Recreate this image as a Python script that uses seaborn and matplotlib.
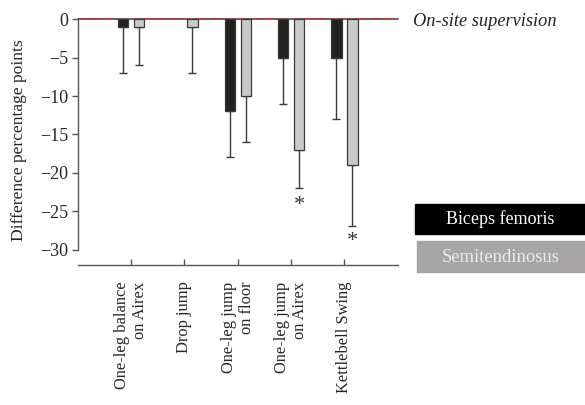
import numpy as np
import pandas as pd
import matplotlib
matplotlib.use('Agg')
import matplotlib.pyplot as plt
import seaborn as sns
from matplotlib.patches import Rectangle

# === DATA ===
exercises = ['One-leg balance\non Airex', 'Drop jump', 'One-leg jump\non floor',
             'One-leg jump\non Airex', 'Kettlebell Swing']
biceps = [-1, np.nan, -12, -5, -5]
biceps_err_end = [-7, np.nan, -18, -11, -13]
semiten = [-1, -1, -10, -17, -19]
semiten_err_end = [-6, -7, -16, -22, -27]
star_y = [np.nan, np.nan, np.nan, -24.2, -28.9]   # asterisks under semitendinosus

muscles = ['Biceps femoris', 'Semitendinosus']
bar_colors = ['#231f20', '#c9c9c9']

df = pd.DataFrame({
    'Exercise': exercises * 2,
    'Muscle': [muscles[0]] * 5 + [muscles[1]] * 5,
    'Diff': biceps + semiten,
    'ErrEnd': biceps_err_end + semiten_err_end,
})

# === STYLE ===
sns.set_style('white')
plt.rcParams['font.family'] = ['Liberation Serif', 'DejaVu Serif']
plt.rcParams['font.size'] = 12

fig = plt.figure(figsize=(5.85, 4.05), dpi=100)
ax = fig.add_axes([0.133, 0.346, 0.547, 0.614])

# zero line (dark line with red dashes), drawn below the bars
ax.axhline(0, color='#444444', lw=1.2, zorder=1, clip_on=False)
ax.axhline(0, color='#d43a3a', lw=1.2, dashes=(5, 3), zorder=1.1, clip_on=False)

sns.barplot(data=df, x='Exercise', y='Diff', hue='Muscle', order=exercises,
            hue_order=muscles, palette=bar_colors, width=0.6, gap=0.37,
            errorbar=None, edgecolor='#3a3a3a', linewidth=0.9, legend=False,
            ax=ax, zorder=2)

# one-sided error bars (downwards only)
offsets = [-0.15, 0.15]
for k, m in enumerate(muscles):
    sub = df[df['Muscle'] == m].set_index('Exercise').loc[exercises]
    xs = np.arange(len(exercises)) + offsets[k]
    lower = (sub['Diff'] - sub['ErrEnd']).values
    ax.errorbar(xs, sub['Diff'].values, yerr=[lower, np.zeros(len(xs))],
                fmt='none', ecolor='#3a3a3a', elinewidth=1, capsize=3,
                capthick=1, zorder=1.5)

for i, y in enumerate(star_y):
    if not np.isnan(y):
        ax.text(i + offsets[1], y, '*', ha='center', va='center', fontsize=16,
                color='#333333')

# axes cosmetics
ax.set_xlim(-1, 5)
ax.set_ylim(-32, 0.4)
ax.set_yticks(range(-30, 1, 5))
ax.set_xticks(range(len(exercises)))
ax.set_xticklabels(exercises, rotation=90, ha='center', va='top', ma='right')
ax.set_xlabel('')
ax.set_ylabel('Difference percentage points', fontsize=12.6, labelpad=9)

for side in ['top', 'right']:
    ax.spines[side].set_visible(False)
for side in ['left', 'bottom']:
    ax.spines[side].set_color('#555555')
    ax.spines[side].set_linewidth(1)
ax.spines['left'].set_bounds(-30, 0)
ax.tick_params(axis='y', direction='out', length=4, width=1, color='#555555',
               left=True, pad=3, labelsize=13)
ax.tick_params(axis='x', direction='in', length=4, width=1, color='#555555',
               bottom=True, pad=12, labelsize=11.9)

# annotation and custom legend boxes
fig.text(0.706, 0.946, 'On-site supervision', style='italic', fontsize=13.2,
         ha='left', va='center', color='#222222')
fig.patches.append(Rectangle((415 / 585, 1 - 234 / 405), 170 / 585, 30 / 405,
                             transform=fig.transFigure, color='#000000',
                             zorder=0))
fig.patches.append(Rectangle((417 / 585, 1 - 272 / 405), 168 / 585, 31 / 405,
                             transform=fig.transFigure, color='#a7a5a6',
                             zorder=0))
fig.text(500 / 585, 1 - 219 / 405, 'Biceps femoris', ha='center', va='center',
         fontsize=13, color='white')
fig.text(501 / 585, 1 - 257 / 405, 'Semitendinosus', ha='center', va='center',
         fontsize=13.4, color='#ececec')

fig.savefig('out.png', dpi=100)
